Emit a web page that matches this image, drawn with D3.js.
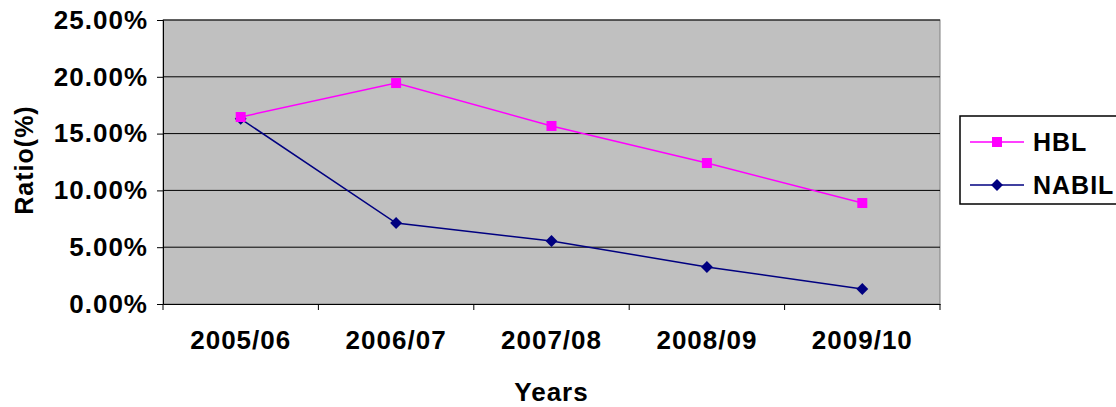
<!DOCTYPE html>
<html><head><meta charset="utf-8">
<script src="https://cdn.jsdelivr.net/npm/d3@7"></script>
<style>body{margin:0;background:#fff}text{font-family:"Liberation Sans",Arial,sans-serif;font-weight:bold;letter-spacing:1px}</style>
</head><body>
<script>
// Data
const years = ["2005/06","2006/07","2007/08","2008/09","2009/10"];
const hbl = [16.46, 19.45, 15.67, 12.41, 8.89];
const nabil = [16.3, 7.13, 5.55, 3.26, 1.32];
const yTicks = [0,5,10,15,20,25];

const width = 1116, height = 407;
const plot = {left:163, right:940, top:20, bottom:304};

const svg = d3.select('body').append('svg').attr('width', width).attr('height', height);

const x = d3.scaleBand().domain(years).range([plot.left, plot.right]);
const y = d3.scaleLinear().domain([0,25]).range([plot.bottom, plot.top]);

// plot background
svg.append('rect').attr('x', plot.left).attr('y', plot.top)
  .attr('width', plot.right-plot.left).attr('height', plot.bottom-plot.top)
  .attr('fill', '#c0c0c0').attr('stroke', '#808080');

// gridlines
svg.selectAll('.grid').data(yTicks.slice(1)).join('line')
  .attr('x1', plot.left).attr('x2', plot.right)
  .attr('y1', d => y(d)).attr('y2', d => y(d)).attr('stroke', '#000');

// y axis
svg.append('g').attr('transform', `translate(${plot.left},0)`)
  .call(d3.axisLeft(y).tickValues(yTicks).tickSize(6).tickPadding(9).tickFormat(d => d.toFixed(2)+'%'))
  .call(g => { g.select('.domain').attr('stroke','#000'); g.selectAll('text').attr('font-size',26).attr('fill','#000'); });

// x axis
svg.append('g').attr('transform', `translate(0,${plot.bottom})`)
  .call(d3.axisBottom(x).tickSize(0).tickPadding(27))
  .call(g => { g.select('.domain').attr('stroke','#000'); g.selectAll('text').attr('font-size',26).attr('fill','#000'); });
svg.selectAll('.xt').data(d3.range(years.length+1)).join('line')
  .attr('x1', i => plot.left + i*x.step()).attr('x2', i => plot.left + i*x.step())
  .attr('y1', plot.bottom).attr('y2', plot.bottom+6).attr('stroke','#000');

// titles
svg.append('text').attr('x', (plot.left+plot.right)/2).attr('y', 401).attr('text-anchor','middle').attr('font-size',26).text('Years');
svg.append('text').attr('transform','translate(33,160) rotate(-90)').attr('text-anchor','middle').attr('font-size',25).text('Ratio(%)');

const cx = d => x(d) + x.bandwidth()/2;
const line = (arr) => d3.line().x((d,i) => cx(years[i])).y(d => y(d))(arr);

svg.append('path').attr('d', line(nabil)).attr('fill','none').attr('stroke','#000080').attr('stroke-width',1.5);
svg.append('path').attr('d', line(hbl)).attr('fill','none').attr('stroke','#ff00ff').attr('stroke-width',1.5);

const diamond = d3.symbol().type(d3.symbolDiamond2).size(90);
svg.selectAll('.nb').data(nabil).join('path')
  .attr('transform', (d,i) => `translate(${cx(years[i])},${y(d)})`).attr('d', diamond).attr('fill','#000080');
svg.selectAll('.hb').data(hbl).join('rect')
  .attr('x', (d,i) => cx(years[i])-5).attr('y', d => y(d)-5).attr('width',10).attr('height',10).attr('fill','#ff00ff');

// legend
const lg = svg.append('g');
lg.append('rect').attr('x',960).attr('y',116).attr('width',170).attr('height',88).attr('fill','#fff').attr('stroke','#000').attr('stroke-width',1.5);
lg.append('line').attr('x1',970).attr('x2',1024).attr('y1',142).attr('y2',142).attr('stroke','#ff00ff').attr('stroke-width',1.5);
lg.append('rect').attr('x',992).attr('y',137).attr('width',10).attr('height',10).attr('fill','#ff00ff');
lg.append('text').attr('x',1033).attr('y',151).attr('font-size',25).text('HBL');
lg.append('line').attr('x1',970).attr('x2',1024).attr('y1',185).attr('y2',185).attr('stroke','#000080').attr('stroke-width',1.5);
lg.append('path').attr('transform','translate(997,185)').attr('d', diamond).attr('fill','#000080');
lg.append('text').attr('x',1033).attr('y',194).attr('font-size',25).text('NABIL');
</script>
</body></html>
